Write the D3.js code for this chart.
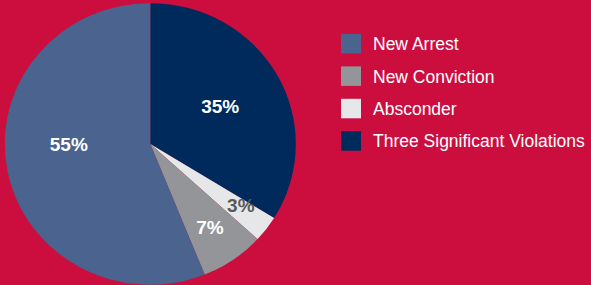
<!DOCTYPE html>
<html>
<head>
<meta charset="utf-8">
<script src="https://cdn.jsdelivr.net/npm/d3@7"></script>
<style>
  body { margin: 0; background: #cc0e3f; }
  svg { display: block; }
</style>
</head>
<body>
<div id="chart"></div>
<script>
var categories = ["Three Significant Violations", "Absconder", "New Conviction", "New Arrest"];
var values = [33.8, 3.0, 7.1, 56.1];
var labels = ["35%", "3%", "7%", "55%"];
var legendOrder = ["New Arrest", "New Conviction", "Absconder", "Three Significant Violations"];

var colors = {
    "New Arrest": "#4a638f",
    "New Conviction": "#939598",
    "Absconder": "#e6e7e8",
    "Three Significant Violations": "#002a5c"
};

var width = 591, height = 285;
var cx = 150.3, cy = 144, r = 145.5;
var squash = 0.968;

var svg = d3.select("#chart").append("svg")
    .attr("width", width)
    .attr("height", height);

var data = categories.map(function(c, i) { return {name: c, value: values[i], label: labels[i]}; });

var pie = d3.pie().sort(null).value(function(d) { return d.value; });
var arcs = pie(data);

var arc = d3.arc().innerRadius(0).outerRadius(r);

var g = svg.append("g")
    .attr("transform", "translate(" + cx + "," + cy + ") scale(1," + squash + ")");

g.selectAll("path")
    .data(arcs)
    .enter().append("path")
    .attr("d", arc)
    .style("fill", function(d) { return colors[d.data.name]; });

// label placement: radius fraction and angle nudge per slice
var labelRadius = [0.55, 0.76, 0.72, 0.56];
var labelAngle = [0, -0.035, 0, 0.19];
var labelColor = ["#fff", "#58595b", "#fff", "#fff"];

svg.selectAll(".lbl")
    .data(arcs)
    .enter().append("text")
    .attr("class", "lbl")
    .attr("x", function(d, i) {
        var a = (d.startAngle + d.endAngle) / 2 + labelAngle[i];
        return cx + Math.sin(a) * r * labelRadius[i];
    })
    .attr("y", function(d, i) {
        var a = (d.startAngle + d.endAngle) / 2 + labelAngle[i];
        return cy - Math.cos(a) * r * labelRadius[i] * squash;
    })
    .attr("dy", "0.36em")
    .attr("text-anchor", "middle")
    .style("font-family", "'Liberation Sans', Arial, sans-serif")
    .style("font-weight", "bold")
    .style("font-size", "19px")
    .style("fill", function(d, i) { return labelColor[i]; })
    .text(function(d) { return d.data.label; });

var legend = svg.selectAll(".legend")
    .data(legendOrder)
    .enter().append("g")
    .attr("class", "legend")
    .attr("transform", function(d, i) { return "translate(341," + (34 + i * 32.4) + ")"; });

legend.append("rect")
    .attr("width", 20)
    .attr("height", 19.5)
    .style("fill", function(d) { return colors[d]; });

legend.append("text")
    .attr("x", 32)
    .attr("y", 10)
    .attr("dy", "0.35em")
    .style("font-family", "'Liberation Sans', Arial, sans-serif")
    .style("font-size", "17.5px")
    .style("fill", "#fff")
    .text(function(d) { return d; });
</script>
</body>
</html>
